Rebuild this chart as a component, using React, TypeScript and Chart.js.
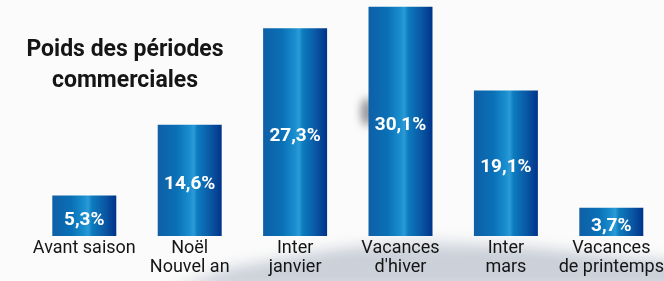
import React, { useEffect, useRef } from "react";
import { Chart, registerables } from "chart.js";

Chart.register(...registerables);

const categories: string[][] = [
  ["Avant saison"],
  ["Noël", "Nouvel an"],
  ["Inter", "janvier"],
  ["Vacances", "d'hiver"],
  ["Inter", "mars"],
  ["Vacances", "de printemps"],
];
const values: number[] = [5.3, 14.6, 27.3, 30.1, 19.1, 3.7];
const valueLabels: string[] = ["5,3%", "14,6%", "27,3%", "30,1%", "19,1%", "3,7%"];
const titleLines: string[] = ["Poids des périodes", "commerciales"];

const CAT_PCT = 0.607;

const backgroundPlugin = {
  id: "bgPlugin",
  beforeDraw(chart: any) {
    const ctx = chart.ctx as CanvasRenderingContext2D;
    const w = chart.width;
    const h = chart.height;
    ctx.save();
    ctx.fillStyle = "#fbfbfb";
    ctx.fillRect(0, 0, w, h);
    ctx.filter = "blur(7px)";
    const g = ctx.createLinearGradient(0, 235, 0, 281);
    g.addColorStop(0, "rgba(190,196,206,0.0)");
    g.addColorStop(0.35, "rgba(185,192,204,0.75)");
    g.addColorStop(1, "rgba(200,205,214,0.9)");
    ctx.fillStyle = g;
    ctx.beginPath();
    ctx.moveTo(170, 290);
    ctx.lineTo(230, 268);
    ctx.lineTo(330, 250);
    ctx.lineTo(420, 238);
    ctx.lineTo(520, 246);
    ctx.lineTo(600, 255);
    ctx.lineTo(680, 262);
    ctx.lineTo(680, 290);
    ctx.closePath();
    ctx.fill();
    ctx.filter = "blur(4px)";
    ctx.fillStyle = "rgba(70,72,80,0.6)";
    ctx.beginPath();
    ctx.ellipse(367, 112, 6, 14, 0, 0, Math.PI * 2);
    ctx.fill();
    ctx.restore();
  },
};

const overlayPlugin = {
  id: "overlayPlugin",
  afterDatasetsDraw(chart: any) {
    const ctx = chart.ctx as CanvasRenderingContext2D;
    const meta = chart.getDatasetMeta(0);
    ctx.save();
    ctx.fillStyle = "#ffffff";
    ctx.font = "bold 19px Roboto";
    ctx.textAlign = "center";
    ctx.textBaseline = "alphabetic";
    meta.data.forEach((bar: any, i: number) => {
      const mid = (bar.y + bar.base) / 2;
      ctx.fillText(valueLabels[i], bar.x, mid + 9);
    });
    ctx.fillStyle = "#151515";
    ctx.font = "bold 23px Roboto";
    ctx.fillText(titleLines[0], 125, 56);
    ctx.fillText(titleLines[1], 125, 87);
    ctx.restore();
  },
};

export default function App() {
  const ref = useRef<HTMLCanvasElement | null>(null);
  useEffect(() => {
    if (!ref.current) return;
    const chart = new Chart(ref.current, {
      type: "bar",
      data: {
        labels: categories,
        datasets: [
          {
            data: values,
            barPercentage: 1,
            categoryPercentage: CAT_PCT,
            borderWidth: 0,
            backgroundColor: (c: any) => {
              const ch = c.chart;
              const area = ch.chartArea;
              const xs = ch.scales?.x;
              if (!area || !xs) return "#0b6ab2";
              const cx = xs.getPixelForValue(c.dataIndex);
              const bw = ((area.right - area.left) / categories.length) * CAT_PCT;
              const g = ch.ctx.createLinearGradient(cx - bw / 2, 0, cx + bw / 2, 0);
              g.addColorStop(0, "#0f5fa6");
              g.addColorStop(0.3, "#0a70b6");
              g.addColorStop(0.5, "#1a8fcf");
              g.addColorStop(0.56, "#2c9ad6");
              g.addColorStop(0.62, "#0c7cbf");
              g.addColorStop(0.82, "#0a58a4");
              g.addColorStop(1, "#00338a");
              return g;
            },
          },
        ],
      },
      options: {
        responsive: false,
        animation: false,
        devicePixelRatio: 1,
        layout: { padding: { left: 31.6, right: 6, top: 0, bottom: 1.6 } },
        plugins: { legend: { display: false }, tooltip: { enabled: false } },
        scales: {
          x: {
            grid: { display: false, drawTicks: false },
            border: { display: false },
            ticks: {
              color: "#151515",
              font: { family: "Roboto", size: 18, lineHeight: 1.04 },
              padding: 3,
              maxRotation: 0,
              autoSkip: false,
            },
          },
          y: { display: false, min: 0, max: 31 },
        },
      },
      plugins: [backgroundPlugin, overlayPlugin],
    });
    return () => chart.destroy();
  }, []);
  return (
    <div
      style={{
        position: "absolute",
        left: 0,
        top: 0,
        width: 664,
        height: 281,
        overflow: "hidden",
        background: "#fbfbfb",
      }}
    >
      <canvas ref={ref} width={670} height={281} style={{ display: "block" }} />
    </div>
  );
}
